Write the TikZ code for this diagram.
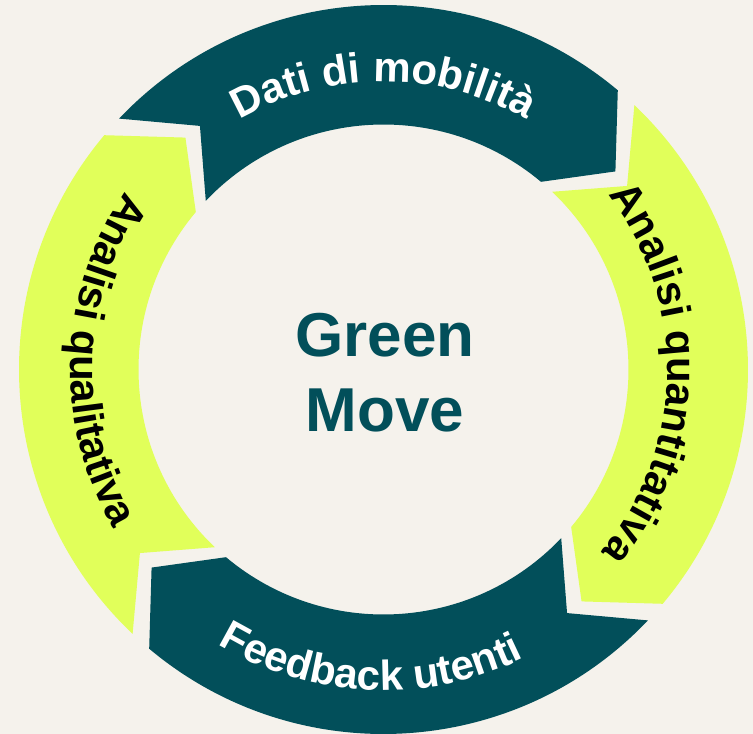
\documentclass[tikz,border=0pt]{standalone}
\usepackage{fontspec}
\setmainfont{Liberation Sans}
\usetikzlibrary{decorations.text}

\definecolor{dteal}{RGB}{2,79,90}
\definecolor{lgreen}{RGB}{225,255,90}
\definecolor{paper}{RGB}{245,242,236}
\newcommand{\arcfont}{\bfseries\fontsize{42}{42}\selectfont}

\begin{document}
\begin{tikzpicture}[x = 1pt, y = 1pt]
\fill[paper] (-383.5,-364.5) rectangle (369.5,369.5);
\useasboundingbox (-383.5,-364.5) rectangle (369.5,369.5);
% ring segments, tail notch first, head last
\fill[dteal] (136.5:364.5) arc[start angle=136.5, end angle=50, radius=364.5] -- (40.5:305) -- (50:245) arc[start angle=50, end angle=136.5, radius=245] -- (127:305) -- cycle;
\fill[lgreen] (46.5:364.5) arc[start angle=46.5, end angle=-40, radius=364.5] -- (-49.5:305) -- (-40:245) arc[start angle=-40, end angle=46.5, radius=245] -- (37:305) -- cycle;
\fill[dteal] (-43.5:364.5) arc[start angle=-43.5, end angle=-130, radius=364.5] -- (-139.5:305) -- (-130:245) arc[start angle=-130, end angle=-43.5, radius=245] -- (-53:305) -- cycle;
\fill[lgreen] (-133.5:364.5) arc[start angle=-133.5, end angle=-220, radius=364.5] -- (-229.5:305) -- (-220:245) arc[start angle=-220, end angle=-133.5, radius=245] -- (-143:305) -- cycle;
% labels on the ring
\path[decorate, decoration={text along path, text align=center, text color=white, text={|\arcfont|Dati di mobilità}}] (150:288) arc[start angle=150, end angle=30, radius=288];
\path[decorate, decoration={text along path, text align=center, text color=black, text={|\arcfont|Analisi quantitativa}}] (59:284) arc[start angle=59, end angle=-61, radius=284];
\path[decorate, decoration={text along path, text align=center, text color=white, text={|\arcfont|Feedback utenti}}] (-152.5:321) arc[start angle=-152.5, end angle=-32.5, radius=321];
\path[decorate, decoration={text along path, text align=center, text color=black, text={|\arcfont|Analisi qualitativa}}] (118:313) arc[start angle=118, end angle=238, radius=313];
\node[text = dteal, font = \bfseries\fontsize{62}{75}\selectfont, align = center] (title) at (1.5,-3) {Green\\Move};
\end{tikzpicture}
\end{document}
